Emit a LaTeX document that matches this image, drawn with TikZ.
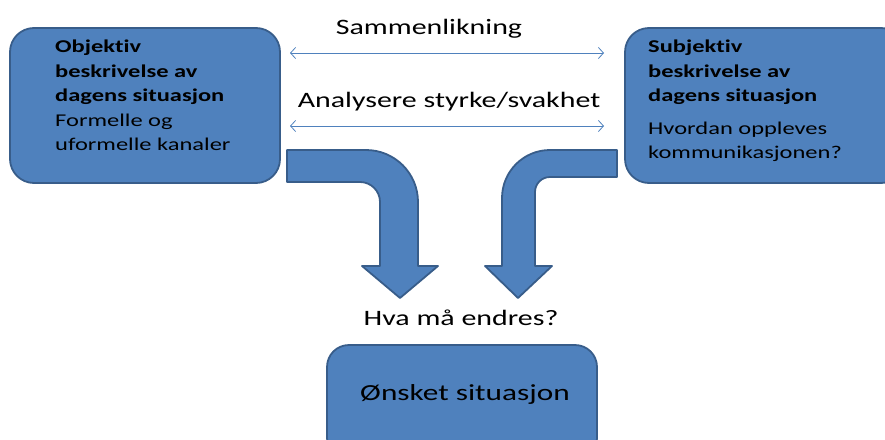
\documentclass[tikz,border=0pt]{standalone}
\usepackage{fontspec}
\setmainfont[FakeStretch=1.36,Ligatures=NoCommon]{Carlito}
\usetikzlibrary{arrows.meta}
\definecolor{fillblue}{HTML}{4F81BD}
\definecolor{edgeblue}{HTML}{385D8A}
\begin{document}
\begin{tikzpicture}[x=1pt,y=-1pt,
  box/.style={fill=fillblue,draw=edgeblue,line width=1.8pt,rounded corners=24pt},
  bent/.style={fill=fillblue,draw=edgeblue,line width=1.8pt,line join=round},
  boxtext/.style={inner sep=0pt,align=left,font=\fontsize{18}{24.5}\selectfont},
  label/.style={inner sep=0pt,font=\fontsize{22}{26}\selectfont},
  dbl/.style={draw=fillblue,line width=0.8pt,{Straight Barb[length=5pt,width=11pt]}-{Straight Barb[length=5pt,width=11pt]}}]
\useasboundingbox (0,0) rectangle (885,439);
\begin{scope}
\clip (0,0) rectangle (885,439);
% boxes
\draw[box] (10,28) rectangle (280,183);
\node[inner sep=0pt] (L) at (145,105.5) {};
\draw[box] (625,28) rectangle (905,183);
\node[inner sep=0pt] (R) at (755,105.5) {};
\draw[box,rounded corners=22pt] (327,345) rectangle (597,460);
\node[inner sep=0pt] (B) at (462,400) {};
% bent arrows
\draw[bent] (287,150) -- (366,150) arc[start angle=-90,end angle=0,radius=52]
  -- (418,266) -- (438,266) -- (400,298) -- (362,266) -- (380,266)
  -- (380,202) arc[start angle=0,end angle=-90,radius=20] -- (287,182) -- cycle;
\draw[bent] (617,150) -- (550,150) arc[start angle=-90,end angle=-180,radius=48]
  -- (502,266) -- (485,266) -- (518,298) -- (552,266) -- (535,266)
  -- (535,192) arc[start angle=180,end angle=270,radius=15] -- (617,177) -- cycle;
\end{scope}
% texts in boxes
\node[boxtext,anchor=north west] (Lt) at (55,40) {\textbf{Objektiv}\\\textbf{beskrivelse av}\\\textbf{dagens situasjon}\\Formelle og\\uformelle kanaler};
\node[boxtext,anchor=north west] (Rt) at (648,40) {\textbf{Subjektiv}\\\textbf{beskrivelse av}\\\textbf{dagens situasjon}\\[8pt]Hvordan oppleves\\kommunikasjonen?};
\node[label,anchor=base,font=\fontsize{23}{27}\selectfont] (Bt) at (465,400) {Ønsket situasjon};
% labels
\node[label,anchor=base] (s1) at (429,34) {Sammenlikning};
\node[label,anchor=base] (s2) at (449,107) {Analysere styrke/svakhet};
\node[label,anchor=base] (s3) at (461,325) {Hva må endres?};
% double arrows
\coordinate (a1l) at (290,53);
\coordinate (a1r) at (604,53);
\coordinate (a2l) at (290,126);
\coordinate (a2r) at (604,126);
\draw[dbl] (a1l) -- (a1r);
\draw[dbl] (a2l) -- (a2r);
\end{tikzpicture}
\end{document}
